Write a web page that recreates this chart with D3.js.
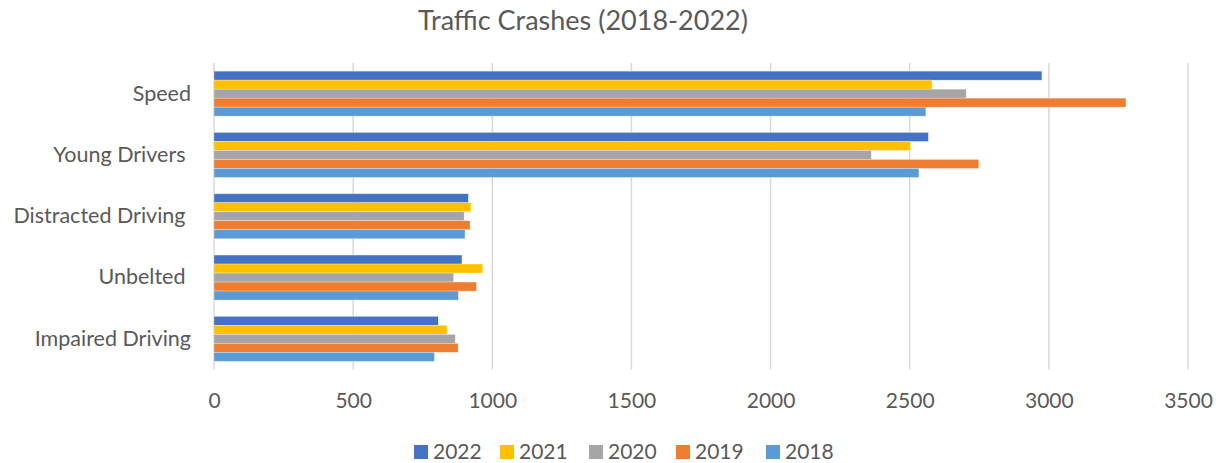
<!DOCTYPE html>
<html>
<head>
<meta charset="utf-8">
<script src="https://cdn.jsdelivr.net/npm/d3@7"></script>
<style>
  html, body { margin: 0; padding: 0; background: #fff; }
  svg { display: block; }
  text { font-family: Lato, "Open Sans", sans-serif; fill: #595959; }
</style>
</head>
<body>
<svg id="chart" width="1220" height="463"></svg>
<script>
const title = "Traffic Crashes (2018-2022)";
const categories = ["Speed", "Young Drivers ", "Distracted Driving ", "Unbelted ", "Impaired Driving"];
const series = ["2022", "2021", "2020", "2019", "2018"];
const colors = ["#4472C4", "#FFC000", "#A5A5A5", "#ED7D31", "#5B9BD5"];
const v2022 = [2975, 2567, 914, 891, 806];
const v2021 = [2580, 2502, 923, 965, 837];
const v2020 = [2703, 2362, 899, 861, 867];
const v2019 = [3277, 2748, 920, 943, 877];
const v2018 = [2558, 2533, 902, 878, 792];
const xTicks = [0, 500, 1000, 1500, 2000, 2500, 3000, 3500];

const valuesBySeries = [v2022, v2021, v2020, v2019, v2018];

const svg = d3.select("#chart");
const plot = { left: 214, right: 1188, top: 63, bottom: 369.5 };

const x = d3.scaleLinear().domain([0, 3500]).range([plot.left, plot.right]);
const y = d3.scaleBand().domain(categories).range([plot.top, plot.bottom])
  .paddingInner(0.266).paddingOuter(0.133);
const ySub = d3.scaleBand().domain(series).range([0, y.bandwidth()]);

// Title
svg.append("text")
  .attr("x", 583).attr("y", 29.5)
  .attr("text-anchor", "middle")
  .style("font-size", "27px")
  .text(title);

// Gridlines
svg.append("g").selectAll("line").data(xTicks).join("line")
  .attr("x1", d => x(d)).attr("x2", d => x(d))
  .attr("y1", plot.top).attr("y2", plot.bottom)
  .attr("stroke", "#d9d9d9").attr("stroke-width", 1.5);

// Bars
const rows = [];
categories.forEach((c, i) => {
  series.forEach((s, j) => {
    rows.push({ cat: c, s: s, v: valuesBySeries[j][i], color: colors[j] });
  });
});
svg.append("g").selectAll("rect").data(rows).join("rect")
  .attr("x", x(0))
  .attr("y", d => y(d.cat) + ySub(d.s))
  .attr("width", d => x(d.v) - x(0))
  .attr("height", ySub.bandwidth())
  .attr("fill", d => d.color)
  .attr("stroke", "#fff").attr("stroke-opacity", 0.5).attr("stroke-width", 0.6);

// X axis labels
const xAxis = d3.axisBottom(x).tickValues(xTicks).tickSize(0).tickPadding(0).tickFormat(d3.format("d"));
const gx = svg.append("g").attr("transform", `translate(0, 393)`).call(xAxis);
gx.select(".domain").remove();
gx.selectAll("text").attr("dy", "0.71em").style("font-size", "21px").style("font-family", "Lato, sans-serif").attr("fill", "#595959");

// Y axis labels
const yAxis = d3.axisLeft(y).tickSize(0).tickPadding(0);
const gy = svg.append("g").attr("transform", `translate(191, 0)`).call(yAxis);
gy.select(".domain").remove();
gy.selectAll("text").style("font-size", "21.5px").style("font-family", "Lato, sans-serif")
  .style("white-space", "pre").attr("fill", "#595959");

// Legend
const legendX = [414, 500, 589, 676, 766];
const lg = svg.append("g").selectAll("g").data(series).join("g")
  .attr("transform", (d, i) => `translate(${legendX[i]}, 445)`);
lg.append("rect").attr("width", 14).attr("height", 14).attr("fill", (d, i) => colors[i]);
lg.append("text").attr("x", 19).attr("y", 14).style("font-size", "21px").text(d => d);
</script>
</body>
</html>
